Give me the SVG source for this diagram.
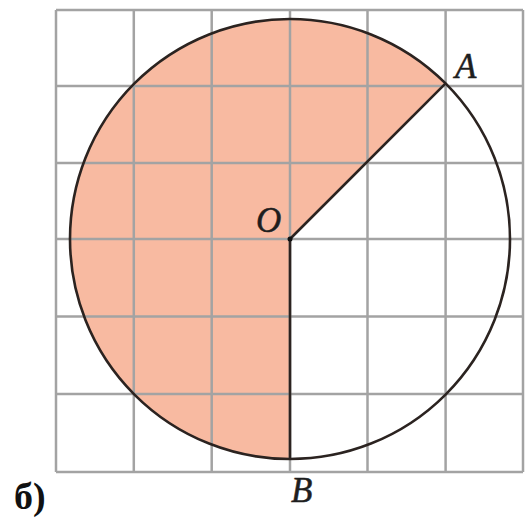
<svg xmlns="http://www.w3.org/2000/svg" width="529" height="522" viewBox="0 0 529 522">
<style>
.grid{stroke:#a3a3a3;stroke-width:2.5;fill:none}
.ol{stroke:#2b2320;stroke-width:2.6;fill:none}
.lbl{font-family:"Liberation Serif","Times New Roman",serif;font-style:italic;font-size:35px;fill:#1e1e1e;stroke:#1e1e1e;stroke-width:0.5}
.cap{font-family:"Liberation Serif","Times New Roman",serif;font-weight:bold;font-size:38px;fill:#111}
</style>
<rect width="529" height="522" fill="#ffffff"/>
<g id="sector">
<path d="M290 239 L445.6 83.4 A220 220 0 1 0 290 459 Z" fill="#f8baa1"/>
</g>
<g id="grid" class="grid">
<line x1="56" y1="10" x2="56" y2="472"/>
<line x1="133.8" y1="10" x2="133.8" y2="472"/>
<line x1="211.7" y1="10" x2="211.7" y2="472"/>
<line x1="290" y1="10" x2="290" y2="472"/>
<line x1="367.5" y1="10" x2="367.5" y2="472"/>
<line x1="445.6" y1="10" x2="445.6" y2="472"/>
<line x1="523" y1="10" x2="523" y2="472"/>
<line x1="56" y1="10" x2="523" y2="10"/>
<line x1="56" y1="86" x2="523" y2="86"/>
<line x1="56" y1="163" x2="523" y2="163"/>
<line x1="56" y1="239" x2="523" y2="239"/>
<line x1="56" y1="316.5" x2="523" y2="316.5"/>
<line x1="56" y1="394" x2="523" y2="394"/>
<line x1="56" y1="472" x2="523" y2="472"/>
</g>
<g id="connectors" class="ol">
<circle cx="290" cy="239" r="220"/>
<line x1="290" y1="239" x2="445.6" y2="83.4"/>
<line x1="290" y1="239" x2="290" y2="459"/>
</g>
<g id="O">
<circle cx="290" cy="239" r="2.5" fill="#111"/>
<text class="lbl" x="256" y="232">O</text>
</g>
<g id="A"><text class="lbl" x="455" y="78">A</text></g>
<g id="B"><text class="lbl" x="291" y="502">B</text></g>
<g id="caption"><text class="cap" x="14" y="509">б)</text></g>
</svg>
